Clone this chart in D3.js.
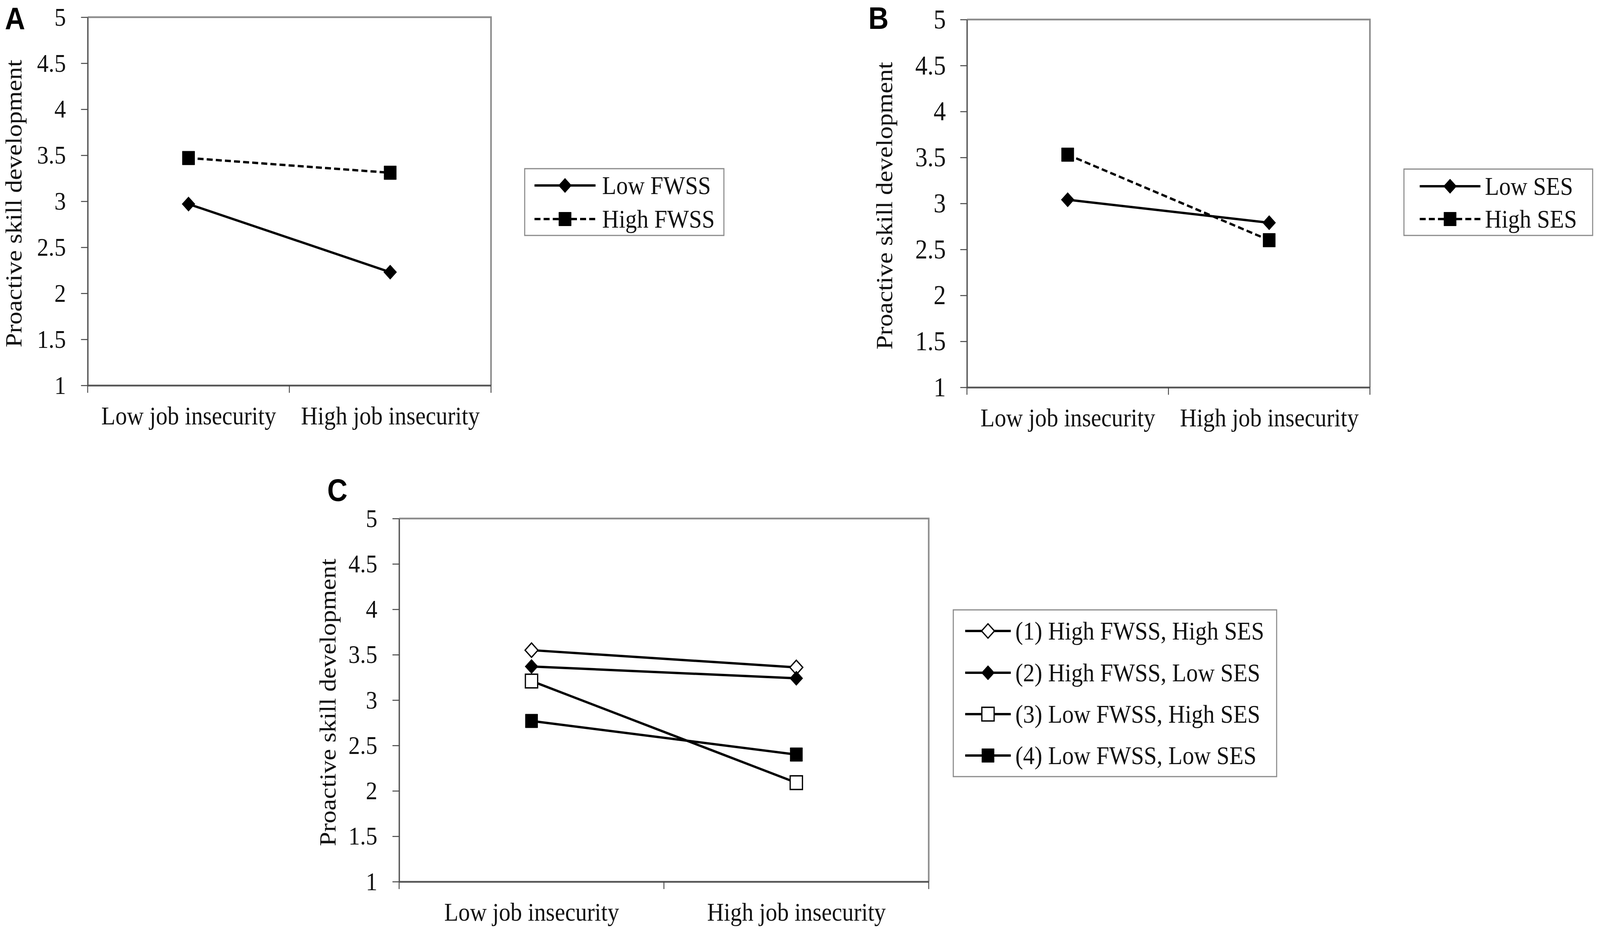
<!DOCTYPE html>
<html>
<head>
<meta charset="utf-8">
<script src="https://cdn.jsdelivr.net/npm/d3@7"></script>
<style>
  html, body { margin: 0; padding: 0; width: 100%; height: 100%; overflow: hidden; background: #fff; }
  #fig { display: block; width: 100vw; height: 100vh; }
</style>
</head>
<body>
<svg id="fig" viewBox="0 0 4562 2387" preserveAspectRatio="none"></svg>
<script>
// ---- data ----
var categories = ["Low job insecurity", "High job insecurity"];
var yTicks = [1, 1.5, 2, 2.5, 3, 3.5, 4, 4.5, 5];
var yTitle = "Proactive skill development";

// panel A: FWSS
var namesA = ["Low FWSS", "High FWSS"];
var lowFWSS = [2.97, 2.23];
var highFWSS = [3.47, 3.31];

// panel B: SES
var namesB = ["Low SES", "High SES"];
var lowSES = [3.04, 2.79];
var highSES = [3.53, 2.60];

// panel C: FWSS x SES
var namesC = ["(1) High FWSS, High SES", "(2) High FWSS, Low SES",
              "(3) Low FWSS, High SES", "(4) Low FWSS, Low SES"];
var hiFWSS_hiSES = [3.55, 3.36];
var hiFWSS_loSES = [3.37, 3.24];
var loFWSS_hiSES = [3.21, 2.09];
var loFWSS_loSES = [2.77, 2.40];

var serif = "'Liberation Serif', 'Times New Roman', serif";

var svg = d3.select("#fig");
svg.append("rect").attr("width", 4562).attr("height", 2387).attr("fill", "#fff");

// marker drawing: diamond or square, filled or open
function marker(sel, type, filled) {
  var sq = d3.symbol().type(d3.symbolSquare);
  sel.append("path")
    .attr("d", type == "diamond" ? sq.size(26 * 26)() : sq.size(35 * 35)())
    .attr("transform", type == "diamond" ? "rotate(45)" : null)
    .attr("fill", filled ? "#000" : "#fff")
    .attr("stroke", "#000")
    .attr("stroke-width", filled ? 1 : 3.5);
}

function drawPanel(p) {
  var g = svg.append("g").attr("transform", "translate(" + p.x + "," + p.y + ")");

  var x = d3.scalePoint().domain(categories).range([0, p.w]).padding(0.5);
  var y = d3.scaleLinear().domain([1, 5]).range([p.h, 0]);

  // top + right frame (grey)
  g.append("path")
    .attr("d", "M0,0H" + p.w + "V" + p.h)
    .attr("fill", "none")
    .attr("stroke", "#8c8c8c")
    .attr("stroke-width", 4.5);

  // y axis
  var ya = g.append("g")
    .call(d3.axisLeft(y).tickValues(yTicks).tickSize(19).tickSizeOuter(0)
      .tickPadding(p.tickPad).tickFormat(d3.format("")));
  ya.select(".domain").attr("stroke", "#5a5a5a").attr("stroke-width", 4);
  ya.selectAll(".tick line").attr("stroke", "#444").attr("stroke-width", 2.5);
  ya.selectAll(".tick text")
    .attr("font-family", serif).attr("font-size", p.tickFont).attr("fill", "#111");

  // x axis: labels at category centres, ticks at category boundaries
  var xa = g.append("g").attr("transform", "translate(0," + p.h + ")")
    .call(d3.axisBottom(x).tickSize(0).tickSizeOuter(0).tickPadding(53));
  xa.select(".domain").attr("stroke", "#555").attr("stroke-width", 4.5);
  xa.selectAll(".tick text")
    .attr("font-family", serif).attr("font-size", 66).attr("fill", "#111");
  var bounds = categories.map(function(c) { return x(c) - x.step() / 2; })
    .concat([x(categories[categories.length - 1]) + x.step() / 2]);
  xa.selectAll(".bound").data(bounds).enter().append("line")
    .attr("x1", function(d) { return d; }).attr("x2", function(d) { return d; })
    .attr("y1", 0).attr("y2", 19)
    .attr("stroke", "#444").attr("stroke-width", 2.5);

  // y title
  g.append("text")
    .attr("transform", "translate(" + (-p.titleOff) + "," + (p.h / 2 + 6) + ") rotate(-90)")
    .attr("text-anchor", "middle")
    .attr("font-family", serif).attr("font-size", 66).attr("fill", "#111")
    .text(yTitle);

  // series lines + markers
  var line = d3.line()
    .x(function(d, i) { return x(categories[i]); })
    .y(function(d) { return y(d); });

  p.series.forEach(function(s) {
    g.append("path")
      .datum(s.values)
      .attr("d", line)
      .attr("fill", "none")
      .attr("stroke", "#000")
      .attr("stroke-width", 6)
      .attr("stroke-dasharray", s.dashed ? "17,9" : null);
  });
  p.series.forEach(function(s) {
    s.values.forEach(function(v, i) {
      var m = g.append("g").attr("transform", "translate(" + x(categories[i]) + "," + y(v) + ")");
      marker(m, s.shape, s.filled);
    });
  });

  // panel letter
  svg.append("text")
    .attr("x", p.letterX).attr("y", p.letterY)
    .attr("font-family", "'Liberation Sans', Arial, sans-serif")
    .attr("font-weight", "bold").attr("font-size", 80)
    .text(p.letter);

  // legend
  var L = p.legend;
  var lg = svg.append("g").attr("transform", "translate(" + L.x + "," + L.y + ")");
  lg.append("rect")
    .attr("width", L.w).attr("height", L.h)
    .attr("fill", "#fff").attr("stroke", "#8a8a8a").attr("stroke-width", 3);
  p.series.forEach(function(s, i) {
    var ry = L.rows[i];
    lg.append("line")
      .attr("x1", L.s0).attr("x2", L.s1).attr("y1", ry).attr("y2", ry)
      .attr("stroke", "#000").attr("stroke-width", 6)
      .attr("stroke-dasharray", s.dashed ? "17,9" : null);
    var m = lg.append("g").attr("transform", "translate(" + ((L.s0 + L.s1) / 2) + "," + ry + ")");
    marker(m, s.shape, s.filled);
    lg.append("text")
      .attr("x", L.tx).attr("y", ry + 22)
      .attr("font-family", serif).attr("font-size", 66).attr("fill", "#111")
      .text(s.name);
  });
}

drawPanel({
  letter: "A", letterX: 14, letterY: 75,
  x: 250, y: 44, w: 1150, h: 943, tickPad: 43, tickFont: 66, titleOff: 189,
  series: [
    { name: namesA[0], values: lowFWSS, shape: "diamond", filled: true, dashed: false },
    { name: namesA[1], values: highFWSS, shape: "square", filled: true, dashed: true }
  ],
  legend: { x: 1496, y: 432, w: 568, h: 171, rows: [43, 129], s0: 28, s1: 202, tx: 221 }
});

drawPanel({
  letter: "B", letterX: 2476, letterY: 74,
  x: 2757, y: 50, w: 1149, h: 942, tickPad: 41, tickFont: 70, titleOff: 213,
  series: [
    { name: namesB[0], values: lowSES, shape: "diamond", filled: true, dashed: false },
    { name: namesB[1], values: highSES, shape: "square", filled: true, dashed: true }
  ],
  legend: { x: 4003, y: 433, w: 538, h: 170, rows: [44, 128], s0: 45, s1: 218, tx: 231 }
});

drawPanel({
  letter: "C", letterX: 933, letterY: 1283,
  x: 1138, y: 1328, w: 1510, h: 930, tickPad: 43, tickFont: 66, titleOff: 181,
  series: [
    { name: namesC[0], values: hiFWSS_hiSES, shape: "diamond", filled: false, dashed: false },
    { name: namesC[1], values: hiFWSS_loSES, shape: "diamond", filled: true, dashed: false },
    { name: namesC[2], values: loFWSS_hiSES, shape: "square", filled: false, dashed: false },
    { name: namesC[3], values: loFWSS_loSES, shape: "square", filled: true, dashed: false }
  ],
  legend: { x: 2718, y: 1562, w: 922, h: 427, rows: [54, 161, 267, 373], s0: 34, s1: 164, tx: 177 }
});
</script>
</body>
</html>
